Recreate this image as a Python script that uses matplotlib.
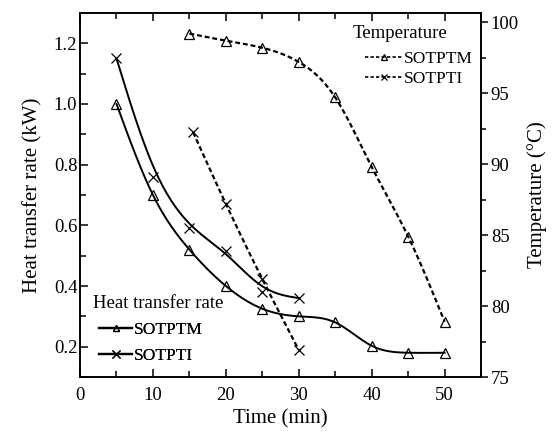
import numpy as np
import matplotlib
matplotlib.use('Agg')
import matplotlib.pyplot as plt
from matplotlib.ticker import MultipleLocator

plt.rcParams['font.family'] = ['Liberation Serif', 'DejaVu Serif']

# data
time = [5, 10, 15, 20, 25, 30, 35, 40, 45, 50]
heat_sotptm = [1.00, 0.70, 0.52, 0.40, 0.325, 0.30, 0.28, 0.203, 0.18, 0.18]
time_i = [5, 10, 15, 20, 25, 30]
heat_sotpti = [1.15, 0.76, 0.59, 0.515, 0.38, 0.36]

temp_time_m = [15, 20, 25, 30, 35, 40, 45, 50]
temp_sotptm = [99.2, 98.7, 98.2, 97.2, 94.7, 89.8, 84.9, 78.9]
temp_time_i = [15.5, 20, 25, 30]
temp_sotpti = [92.25, 87.2, 81.9, 76.9]


def natural_spline(x, y, n=300):
    x = np.asarray(x, float)
    y = np.asarray(y, float)
    k = len(x)
    h = np.diff(x)
    A = np.zeros((k, k))
    b = np.zeros(k)
    A[0, 0] = A[-1, -1] = 1
    for i in range(1, k - 1):
        A[i, i - 1] = h[i - 1]
        A[i, i] = 2 * (h[i - 1] + h[i])
        A[i, i + 1] = h[i]
        b[i] = 3 * ((y[i + 1] - y[i]) / h[i] - (y[i] - y[i - 1]) / h[i - 1])
    c = np.linalg.solve(A, b)
    xs = np.linspace(x[0], x[-1], n)
    idx = np.clip(np.searchsorted(x, xs) - 1, 0, k - 2)
    d = xs - x[idx]
    bb = (y[idx + 1] - y[idx]) / h[idx] - h[idx] * (2 * c[idx] + c[idx + 1]) / 3
    dd = (c[idx + 1] - c[idx]) / (3 * h[idx])
    return xs, y[idx] + bb * d + c[idx] * d ** 2 + dd * d ** 3


def bspline(x, y, n=40):
    P = np.column_stack([x, y]).astype(float)
    P = np.vstack([P[0], P[0], P, P[-1], P[-1]])
    t = np.linspace(0, 1, n)
    B = np.column_stack([(1 - t) ** 3, 3 * t ** 3 - 6 * t ** 2 + 4,
                         -3 * t ** 3 + 3 * t ** 2 + 3 * t + 1, t ** 3]) / 6
    pts = np.vstack([B @ P[i:i + 4] for i in range(len(P) - 3)])
    return pts[:, 0], pts[:, 1]


fig = plt.figure(figsize=(5.52, 4.33), dpi=100)
ax = fig.add_axes([0.145, 0.1293, 0.7265, 0.8407])
ax2 = ax.twinx()

lw = 1.4
dash = (0, (2.2, 1.3))
mk = dict(markerfacecolor='none', markeredgecolor='black', markeredgewidth=0.9)

# heat transfer rate (solid, left axis)
xs, ys = natural_spline(time, heat_sotptm)
ax.plot(xs, ys, color='black', lw=lw)
ax.plot(time, heat_sotptm, ls='none', marker='^', ms=6.5, **mk)
xs, ys = bspline(time_i, heat_sotpti)
ax.plot(xs, ys, color='black', lw=lw)
ax.plot(time_i, heat_sotpti, ls='none', marker='x', ms=7, color='black', markeredgewidth=0.9)

# temperature (dashed, right axis)
xs, ys = natural_spline(temp_time_m, temp_sotptm)
ax2.plot(xs, ys, color='black', lw=1.6, ls=dash)
ax2.plot(temp_time_m, temp_sotptm, ls='none', marker='^', ms=6.5, **mk)
xs, ys = natural_spline(temp_time_i, temp_sotpti)
ax2.plot(xs, ys, color='black', lw=1.6, ls=dash)
ax2.plot(temp_time_i, temp_sotpti, ls='none', marker='x', ms=7, color='black', markeredgewidth=0.9)

ax.set_xlim(0, 55)
ax.set_ylim(0.1, 1.3)
ax2.set_ylim(75, 100.65)
ax.xaxis.set_major_locator(MultipleLocator(10))
ax.xaxis.set_minor_locator(MultipleLocator(5))
ax.yaxis.set_major_locator(MultipleLocator(0.2))
ax.yaxis.set_minor_locator(MultipleLocator(0.1))
ax2.yaxis.set_major_locator(MultipleLocator(5))
ax2.yaxis.set_minor_locator(MultipleLocator(2.5))
ax.yaxis.set_major_formatter(plt.FormatStrFormatter('%.1f'))

ax.tick_params(which='both', direction='in', top=True, right=False, labelsize=13.5, width=1.1)
ax.tick_params(which='major', length=6)
ax.tick_params(which='minor', length=4)
ax.tick_params(axis='x', pad=7)
ax.tick_params(axis='y', pad=2)
ax2.tick_params(which='both', direction='out', labelsize=13.5, width=1.1, pad=2)
ax2.tick_params(which='major', length=5)
ax2.tick_params(which='minor', length=3.5)
for a in (ax, ax2):
    for s in a.spines.values():
        s.set_linewidth(1.2)

ax.set_xlabel('Time (min)', fontsize=15, labelpad=4)
ax.set_ylabel('Heat transfer rate (kW)', fontsize=15, labelpad=8)
ax2.set_ylabel('Temperature (°C)', fontsize=15, labelpad=6)

# legends (titles as separate text)
h1 = ax.plot([], [], color='black', lw=1.6, marker='^', ms=5, **mk)[0]
h2 = ax.plot([], [], color='black', lw=1.6, marker='x', ms=5.5, markeredgewidth=0.9)[0]
ax.text(0.032, 0.202, 'Heat transfer rate', transform=ax.transAxes,
        fontsize=13.5, ha='left', va='center')
leg1 = ax.legend([h1, h2], ['SOTPTM', 'SOTPTI'],
                 loc='upper left', bbox_to_anchor=(0.026, 0.175), frameon=False,
                 fontsize=12.5, borderpad=0, handlelength=1.9,
                 handletextpad=0.1, labelspacing=0.55)
ax.add_artist(leg1)

h3 = ax2.plot([], [], color='black', lw=1.2, ls=(0, (2, 1.3)), marker='^', ms=4.5, **mk)[0]
h4 = ax2.plot([], [], color='black', lw=1.2, ls=(0, (2, 1.3)), marker='x', ms=5, markeredgewidth=0.9)[0]
ax.text(0.68, 0.943, 'Temperature', transform=ax.transAxes,
        fontsize=13.5, ha='left', va='center')
ax2.legend([h3, h4], ['SOTPTM', 'SOTPTI'],
           loc='upper left', bbox_to_anchor=(0.69, 0.919), frameon=False,
           fontsize=12.5, borderpad=0, handlelength=2.1,
           handletextpad=0.1, labelspacing=0.2)

fig.savefig('out.png', dpi=100)
